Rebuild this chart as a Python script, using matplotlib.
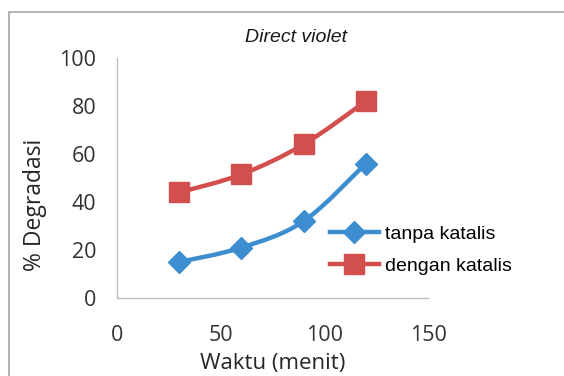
import numpy as np
import matplotlib.pyplot as plt
from matplotlib.path import Path
from matplotlib.patches import PathPatch, Rectangle
from matplotlib.lines import Line2D

waktu = [30, 60, 90, 120]
tanpa_katalis = [15, 21, 32, 56]
dengan_katalis = [44, 51.5, 64, 82]

blue = '#3D8ED0'
red = '#D24F4D'


def smooth_path(x, y, t=1/6):
    # Catmull-Rom style bezier segments through the data points
    x = np.asarray(x, float)
    y = np.asarray(y, float)
    verts = [(x[0], y[0])]
    codes = [Path.MOVETO]
    n = len(x)
    for i in range(n - 1):
        p0 = i - 1 if i > 0 else i
        p3 = i + 2 if i + 2 < n else i + 1
        c1 = (x[i] + (x[i + 1] - x[p0]) * t, y[i] + (y[i + 1] - y[p0]) * t)
        c2 = (x[i + 1] - (x[p3] - x[i]) * t, y[i + 1] - (y[p3] - y[i]) * t)
        verts += [c1, c2, (x[i + 1], y[i + 1])]
        codes += [Path.CURVE4] * 3
    return Path(verts, codes)


fig = plt.figure(figsize=(5.64, 3.76), dpi=100)
fig.patches.append(Rectangle((9 / 564, -0.1), 1.2, (1 - 12 / 376) + 0.1,
                             transform=fig.transFigure, fill=False,
                             edgecolor='#a6a6a6', linewidth=1.2))

ax = fig.add_axes([117 / 564, 78 / 376, 311 / 564, 240 / 376])

for ys, col, mk, ms in [(tanpa_katalis, blue, 'D', 11.5), (dengan_katalis, red, 's', 14.5)]:
    ax.add_patch(PathPatch(smooth_path(waktu, ys), facecolor='none',
                           edgecolor=col, linewidth=3.2, capstyle='round'))
    ax.plot(waktu, ys, linestyle='none', marker=mk, markersize=ms,
            color=col, markeredgecolor=col)

ax.set_xlim(0, 150)
ax.set_ylim(0, 100)
ax.set_xticks([0, 50, 100, 150])
ax.set_yticks([0, 20, 40, 60, 80, 100])
ax.tick_params(length=0, labelsize=15.5, colors='#333333')
for lab in ax.get_xticklabels() + ax.get_yticklabels():
    lab.set_family('Open Sans')
ax.tick_params(axis='x', pad=19.5)
ax.tick_params(axis='y', pad=15)
for s in ['top', 'right']:
    ax.spines[s].set_visible(False)
for s in ['left', 'bottom']:
    ax.spines[s].set_color('#bfbfbf')
    ax.spines[s].set_linewidth(1.0)

ax.set_xlabel('Waktu (menit)', fontsize=16, family='Open Sans', color='#262626', labelpad=5)
ax.set_ylabel('% Degradasi', fontsize=16.5, family='Open Sans', color='#262626')
ax.yaxis.set_label_coords(-0.225, 0.39)
fig.text(296 / 564, 1 - 38 / 376, 'Direct violet', ha='center', va='center',
         fontsize=14, style='italic', family='Liberation Sans', color='#1a1a1a')

handles = [Line2D([], [], color=blue, linewidth=3.2, marker='D', markersize=11.5),
           Line2D([], [], color=red, linewidth=3.2, marker='s', markersize=14)]
fig.legend(handles, ['tanpa katalis', 'dengan katalis'], loc='center left',
           bbox_to_anchor=(330 / 564, 1 - 250 / 376), frameon=False,
           prop={'family': 'Liberation Sans', 'size': 14}, handlelength=2.5,
           handletextpad=0.35, labelspacing=0.76, borderpad=0, borderaxespad=0)

fig.savefig('out.png', dpi=100)
